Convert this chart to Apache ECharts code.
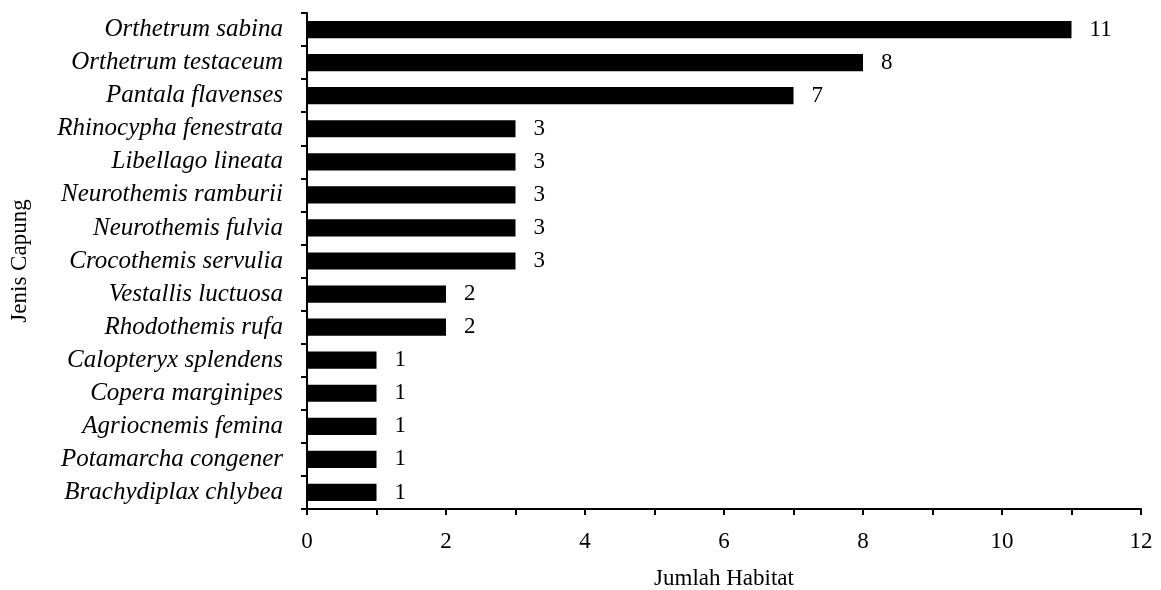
<!DOCTYPE html>
<html><head><meta charset="utf-8">
<script src="https://cdn.jsdelivr.net/npm/echarts@6/dist/echarts.min.js"></script>
<style>html,body{margin:0;padding:0;background:#fff}#c{width:1161px;height:590px}</style>
</head><body><div id="c"></div>
<script>
const categories = ["Orthetrum sabina","Orthetrum testaceum","Pantala flavenses","Rhinocypha fenestrata","Libellago lineata","Neurothemis ramburii","Neurothemis fulvia","Crocothemis servulia","Vestallis luctuosa","Rhodothemis rufa","Calopteryx splendens","Copera marginipes","Agriocnemis femina","Potamarcha congener","Brachydiplax chlybea"];
const values = [11,8,7,3,3,3,3,3,2,2,1,1,1,1,1];
const xTicks = [0,2,4,6,8,10,12];
const font = "'Liberation Serif','Times New Roman',serif";
const chart = echarts.init(document.getElementById('c'));
chart.setOption({
  animation:false,
  grid:{left:307,right:20,top:13,bottom:81,containLabel:false,outerBoundsMode:'none'},
  xAxis:{type:'value',min:xTicks[0],max:xTicks[xTicks.length-1],interval:2,
    name:'Jumlah Habitat',nameLocation:'middle',nameGap:58,
    nameTextStyle:{fontFamily:font,fontSize:23,color:'#000'},
    axisLine:{show:true,lineStyle:{color:'#000',width:2}},
    axisTick:{show:true,length:6,lineStyle:{color:'#000',width:2}},
    minorTick:{show:true,splitNumber:2,length:6,lineStyle:{color:'#000',width:2}},
    axisLabel:{fontFamily:font,fontSize:23,color:'#000',margin:21},
    splitLine:{show:false}},
  yAxis:{type:'category',data:categories,inverse:true,
    name:'Jenis Capung',nameLocation:'middle',nameGap:276,
    nameTextStyle:{fontFamily:font,fontSize:23,color:'#000'},
    axisLine:{show:true,lineStyle:{color:'#000',width:2}},
    axisTick:{show:true,length:6,lineStyle:{color:'#000',width:2}},
    axisLabel:{fontFamily:font,fontSize:25,fontStyle:'italic',color:'#000',margin:24}},
  series:[{type:'bar',data:values,barCategoryGap:'48%',
    itemStyle:{color:'#000'},
    label:{show:true,position:'right',distance:18,fontFamily:font,fontSize:23,color:'#000'}}]
});
</script></body></html>
